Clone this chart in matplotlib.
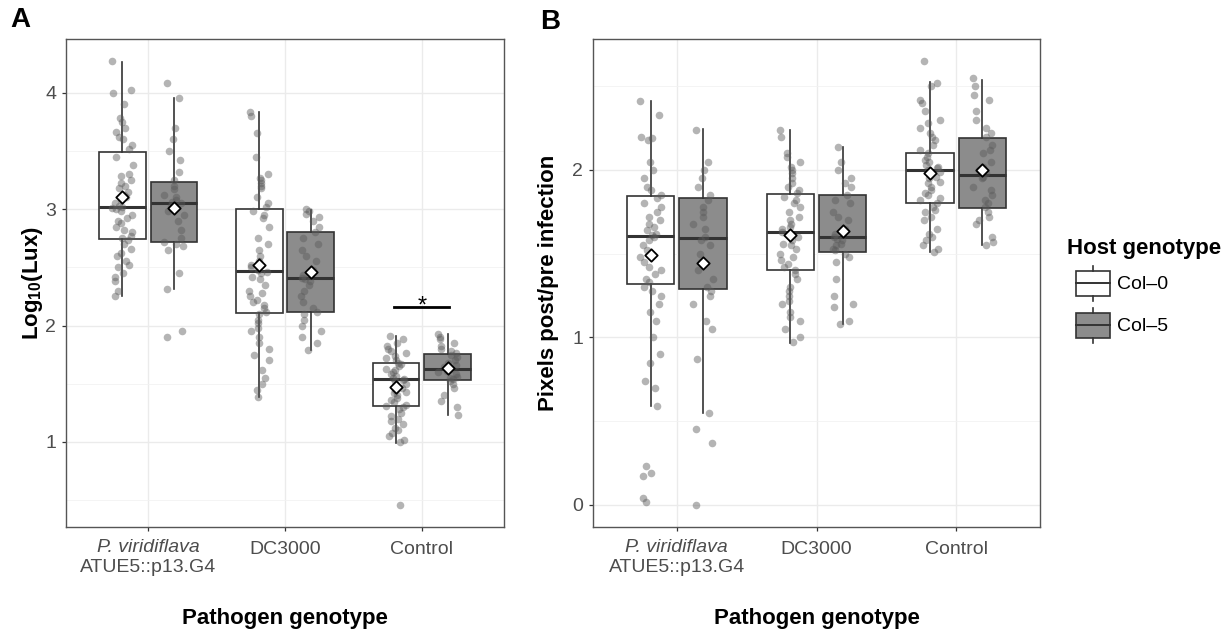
import math
import matplotlib.pyplot as plt
import matplotlib.transforms as mtransforms
from matplotlib.legend_handler import HandlerBase
from matplotlib.patches import Rectangle, Patch
from matplotlib.lines import Line2D

plt.rcParams['font.family'] = ['Liberation Sans', 'DejaVu Sans']
plt.rcParams['mathtext.fontset'] = 'custom'
plt.rcParams['mathtext.rm'] = 'Liberation Sans'
plt.rcParams['mathtext.bf'] = 'Liberation Sans:bold'

# ---- data ----
categories = ['P. viridiflava', 'DC3000', 'Control']
strain_line2 = 'ATUE5::p13.G4'
hosts = ['Col\u20130', 'Col\u20135']
host_fill = ['white', '#8c8c8c']

# groups ordered: pv/Col-0, pv/Col-5, DC3000/Col-0, DC3000/Col-5, Control/Col-0, Control/Col-5
lux_whislo = [2.25, 2.31, 1.39, 1.79, 0.995, 1.23]
lux_q1 = [2.74, 2.72, 2.11, 2.12, 1.31, 1.535]
lux_med = [3.015, 3.05, 2.47, 2.41, 1.54, 1.63]
lux_q3 = [3.49, 3.23, 3.00, 2.80, 1.68, 1.755]
lux_whishi = [4.26, 3.955, 3.83, 2.99, 1.91, 1.93]
lux_mean = [3.10, 3.01, 2.52, 2.46, 1.475, 1.635]

lux_pv_col0 = [4.27, 4.02, 4.0, 3.9, 3.78, 3.75, 3.7, 3.66, 3.62, 3.6, 3.55, 3.52, 3.45,
               3.38, 3.3, 3.28, 3.25, 3.22, 3.2, 3.18, 3.15, 3.12, 3.1, 3.08, 3.05, 3.03,
               3.02, 3.01, 3.0, 2.98, 2.95, 2.92, 2.9, 2.88, 2.85, 2.82, 2.8, 2.77, 2.75,
               2.73, 2.7, 2.66, 2.62, 2.6, 2.55, 2.52, 2.5, 2.45, 2.42, 2.38, 2.3, 2.25]
lux_pv_col5 = [4.08, 3.95, 3.7, 3.6, 3.5, 3.42, 3.32, 3.25, 3.2, 3.17, 3.12, 3.1, 3.08,
               3.06, 3.05, 3.03, 3.0, 2.98, 2.95, 2.9, 2.82, 2.75, 2.72, 2.7, 2.68, 2.65,
               2.45, 2.31, 1.95, 1.9]
lux_dc_col0 = [3.83, 3.8, 3.65, 3.45, 3.3, 3.27, 3.25, 3.22, 3.2, 3.18, 3.1, 3.05, 3.02,
               2.98, 2.95, 2.92, 2.85, 2.75, 2.7, 2.65, 2.6, 2.55, 2.52, 2.5, 2.48, 2.46,
               2.45, 2.42, 2.4, 2.35, 2.3, 2.28, 2.25, 2.22, 2.2, 2.18, 2.15, 2.12, 2.1,
               2.05, 2.02, 1.98, 1.95, 1.9, 1.85, 1.8, 1.75, 1.7, 1.62, 1.55, 1.5, 1.45, 1.39]
lux_dc_col5 = [3.0, 2.98, 2.96, 2.93, 2.9, 2.85, 2.8, 2.75, 2.7, 2.65, 2.6, 2.55, 2.48,
               2.43, 2.41, 2.4, 2.38, 2.35, 2.3, 2.25, 2.2, 2.15, 2.12, 2.1, 2.05, 2.0,
               1.95, 1.9, 1.85, 1.79]
lux_ct_col0 = [1.91, 1.88, 1.85, 1.82, 1.8, 1.78, 1.76, 1.74, 1.72, 1.7, 1.68, 1.67, 1.65,
               1.63, 1.62, 1.6, 1.58, 1.57, 1.55, 1.54, 1.53, 1.52, 1.5, 1.48, 1.46, 1.45,
               1.43, 1.42, 1.4, 1.38, 1.36, 1.34, 1.32, 1.31, 1.3, 1.28, 1.25, 1.22, 1.2,
               1.18, 1.15, 1.12, 1.1, 1.08, 1.05, 1.02, 1.0, 0.46]
lux_ct_col5 = [1.93, 1.9, 1.88, 1.85, 1.82, 1.8, 1.78, 1.76, 1.75, 1.73, 1.7, 1.68, 1.66,
               1.65, 1.64, 1.63, 1.62, 1.61, 1.6, 1.58, 1.56, 1.55, 1.54, 1.52, 1.5, 1.46,
               1.4, 1.35, 1.3, 1.23]

px_whislo = [0.59, 0.547, 0.964, 1.078, 1.51, 1.55]
px_q1 = [1.32, 1.29, 1.40, 1.508, 1.80, 1.775]
px_med = [1.608, 1.594, 1.632, 1.598, 2.0, 1.97]
px_q3 = [1.844, 1.83, 1.856, 1.848, 2.104, 2.19]
px_whishi = [2.414, 2.244, 2.24, 2.14, 2.525, 2.54]
px_mean = [1.49, 1.444, 1.614, 1.638, 1.985, 2.0]

px_pv_col0 = [2.41, 2.33, 2.2, 2.19, 2.18, 2.05, 2.0, 1.95, 1.9, 1.88, 1.85, 1.83, 1.8,
              1.78, 1.75, 1.72, 1.7, 1.68, 1.66, 1.64, 1.62, 1.61, 1.6, 1.58, 1.55, 1.52,
              1.5, 1.48, 1.45, 1.42, 1.4, 1.38, 1.35, 1.33, 1.3, 1.28, 1.25, 1.2, 1.15,
              1.1, 1.0, 0.9, 0.85, 0.74, 0.7, 0.59, 0.23, 0.19, 0.17, 0.04, 0.015]
px_pv_col5 = [2.24, 2.05, 2.0, 1.95, 1.9, 1.85, 1.82, 1.78, 1.75, 1.72, 1.68, 1.65, 1.6,
              1.58, 1.55, 1.5, 1.45, 1.4, 1.35, 1.3, 1.28, 1.25, 1.2, 1.1, 1.05, 0.87,
              0.55, 0.45, 0.37, 0.0]
px_dc_col0 = [2.24, 2.2, 2.1, 2.08, 2.05, 2.02, 2.0, 1.98, 1.95, 1.92, 1.9, 1.88, 1.86,
              1.84, 1.82, 1.8, 1.78, 1.75, 1.72, 1.7, 1.68, 1.66, 1.65, 1.63, 1.62, 1.6,
              1.58, 1.56, 1.55, 1.53, 1.5, 1.48, 1.46, 1.44, 1.42, 1.4, 1.38, 1.35, 1.3,
              1.28, 1.25, 1.22, 1.2, 1.15, 1.12, 1.1, 1.05, 1.0, 0.97]
px_dc_col5 = [2.14, 2.05, 2.0, 1.95, 1.92, 1.9, 1.85, 1.82, 1.8, 1.75, 1.72, 1.7, 1.65,
              1.62, 1.6, 1.59, 1.58, 1.56, 1.55, 1.53, 1.52, 1.5, 1.48, 1.45, 1.35, 1.25,
              1.2, 1.18, 1.1, 1.08]
px_ct_col0 = [2.65, 2.52, 2.5, 2.42, 2.4, 2.35, 2.3, 2.28, 2.25, 2.22, 2.2, 2.18, 2.15,
              2.12, 2.1, 2.08, 2.06, 2.05, 2.03, 2.02, 2.01, 2.0, 1.99, 1.98, 1.96, 1.95,
              1.93, 1.92, 1.9, 1.88, 1.86, 1.85, 1.83, 1.82, 1.8, 1.78, 1.76, 1.75, 1.72,
              1.7, 1.65, 1.62, 1.6, 1.58, 1.55, 1.53, 1.51]
px_ct_col5 = [2.55, 2.5, 2.45, 2.42, 2.35, 2.3, 2.25, 2.22, 2.2, 2.15, 2.12, 2.1, 2.05,
              2.02, 2.0, 1.98, 1.96, 1.95, 1.9, 1.88, 1.85, 1.82, 1.8, 1.78, 1.75, 1.72,
              1.7, 1.68, 1.6, 1.57, 1.55]

# significance mark over Control in panel A
sig_y = 2.16
sig_label = '*'

EDGE = '#333333'


def jitter(i, k):
    # deterministic scatter in [-0.5, 0.5) used only for horizontal spreading
    v = math.sin(i * 12.9898 + k * 78.233) * 43758.5453
    return v - math.floor(v) - 0.5


def draw_panel(ax, whislo, q1, med, q3, whishi, means, points, yticks):
    pos = [c + 1 + (h - 0.5) * 0.375 for c in range(3) for h in range(2)]
    stats = [dict(whislo=whislo[k], q1=q1[k], med=med[k], q3=q3[k], whishi=whishi[k],
                  fliers=[]) for k in range(6)]
    bp = ax.bxp(stats, positions=pos, widths=0.34, patch_artist=True, showfliers=False,
                showcaps=False, manage_ticks=False,
                boxprops=dict(edgecolor=EDGE, linewidth=1.2),
                whiskerprops=dict(color=EDGE, linewidth=1.2),
                medianprops=dict(color=EDGE, linewidth=2.2))
    for k, box in enumerate(bp['boxes']):
        box.set_facecolor(host_fill[k % 2])
        box.set_zorder(2)
    for k, ys in enumerate(points):
        xs = [pos[k] + jitter(i, k) * 0.15 for i in range(len(ys))]
        ax.scatter(xs, ys, s=30, color='#5a5a5a', alpha=0.45, linewidths=0, zorder=3)
    ax.scatter(pos, means, marker='D', s=40, facecolor='white', edgecolor='black',
               linewidths=1.3, zorder=4)

    allv = [v for ys in points for v in ys]
    lo, hi = min(allv), max(allv)
    pad = 0.05 * (hi - lo)
    ax.set_xlim(0.4, 3.6)
    ax.set_yticks(yticks)
    ax.set_yticks([t + 0.5 for t in [yticks[0] - 1] + yticks], minor=True)
    ax.set_ylim(lo - pad, hi + pad)
    ax.set_xticks([1, 2, 3])
    ax.set_xticklabels(['', categories[1], categories[2]])
    ax.grid(True, which='major', color='#ebebeb', linewidth=1.0, zorder=0)
    ax.grid(True, which='minor', axis='y', color='#f2f2f2', linewidth=0.6, zorder=0)
    ax.set_axisbelow(True)
    ax.tick_params(axis='both', which='major', length=3, width=0.9, color=EDGE,
                   labelsize=14, labelcolor='#4d4d4d', pad=4)
    ax.tick_params(axis='y', which='minor', length=0)
    ax.tick_params(axis='x', pad=7)
    for sp in ax.spines.values():
        sp.set_color('#555555')
        sp.set_linewidth(1.0)
    trans = mtransforms.blended_transform_factory(ax.transData, ax.transAxes)
    ax.text(1, -0.043, categories[0], transform=trans, ha='center', va='center',
            style='italic', fontsize=14, color='#4d4d4d')
    ax.text(1, -0.084, strain_line2, transform=trans, ha='center', va='center',
            fontsize=14, color='#4d4d4d')
    ax.set_xlabel('Pathogen genotype', fontsize=16, fontweight='bold')
    ax.xaxis.set_label_coords(0.5, -0.165)


class BoxKey(HandlerBase):
    def create_artists(self, legend, orig_handle, xdescent, ydescent, width, height,
                       fontsize, trans):
        fc = orig_handle.get_facecolor()
        bw = width * 0.78
        x0, y0 = -xdescent + (width - bw), -ydescent
        bh = height * 0.71
        by = y0 + (height - bh) / 2
        xm = x0 + bw / 2
        arts = [Rectangle((x0, by), bw, bh, facecolor=fc, edgecolor=EDGE, lw=1.2),
                Line2D([x0, x0 + bw], [y0 + height / 2] * 2, color=EDGE, lw=1.4),
                Line2D([xm, xm], [by + bh, y0 + height], color=EDGE, lw=1.2),
                Line2D([xm, xm], [y0, by], color=EDGE, lw=1.2)]
        for a in arts:
            a.set_transform(trans)
        return arts


fig = plt.figure(figsize=(12.3, 6.35), dpi=100)
axA = fig.add_axes([66 / 1230, 108 / 635, 438 / 1230, 488 / 635])
axB = fig.add_axes([593 / 1230, 108 / 635, 447 / 1230, 488 / 635])

draw_panel(axA, lux_whislo, lux_q1, lux_med, lux_q3, lux_whishi, lux_mean,
           [lux_pv_col0, lux_pv_col5, lux_dc_col0, lux_dc_col5, lux_ct_col0, lux_ct_col5],
           [1, 2, 3, 4])
draw_panel(axB, px_whislo, px_q1, px_med, px_q3, px_whishi, px_mean,
           [px_pv_col0, px_pv_col5, px_dc_col0, px_dc_col5, px_ct_col0, px_ct_col5],
           [0, 1, 2])

axA.set_ylabel(r'Log$_{\mathbf{10}}$(Lux)', fontsize=16, fontweight='bold', labelpad=0)
axB.set_ylabel('Pixels post/pre infection', fontsize=16, fontweight='bold', labelpad=10)

# significance bar
axA.plot([2.8, 3.2], [sig_y, sig_y], color='black', lw=2, zorder=5)
axA.text(3, sig_y - 0.045, sig_label, ha='center', va='baseline', fontsize=17, zorder=5)

fig.text(10 / 1230, 1 - 20 / 635, 'A', fontsize=20, fontweight='bold', va='center')
fig.text(540 / 1230, 1 - 22 / 635, 'B', fontsize=20, fontweight='bold', va='center')

fig.legend(handles=[Patch(facecolor=host_fill[0]), Patch(facecolor=host_fill[1])],
           labels=hosts, handler_map={Patch: BoxKey()}, title='Host genotype',
           title_fontproperties={'weight': 'bold', 'size': 16}, fontsize=14,
           frameon=False, loc='upper left', bbox_to_anchor=(1057 / 1230, 1 - 228 / 635),
           handlelength=2.2, handleheight=2.39, labelspacing=0.36, handletextpad=0.4,
           borderpad=0, alignment='left')

fig.savefig('out.png', dpi=100)
